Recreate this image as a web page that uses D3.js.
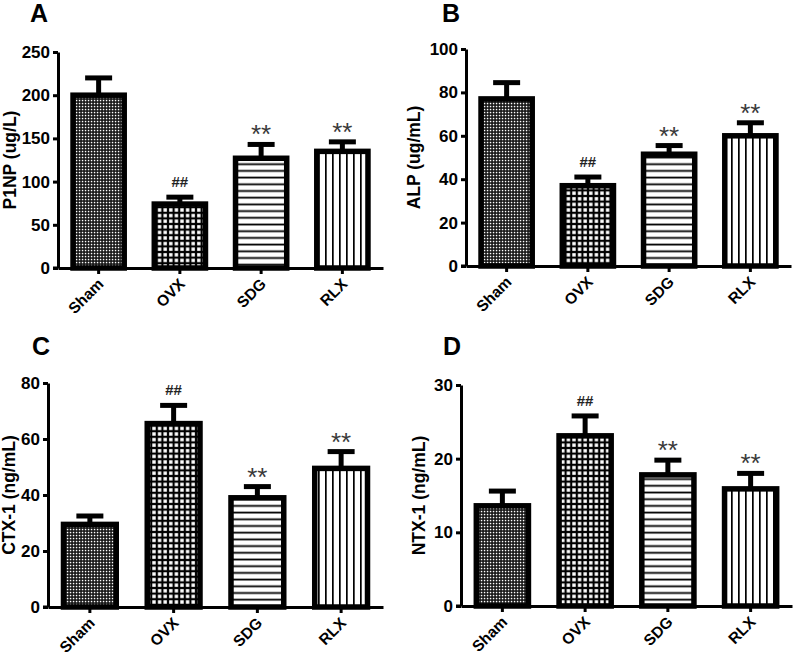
<!DOCTYPE html>
<html><head><meta charset="utf-8">
<script src="https://cdn.jsdelivr.net/npm/d3@7"></script>
<style>body{margin:0;background:#fff} svg{display:block}</style>
</head><body><svg id="c" width="796" height="656"></svg>
<script>
const categories = ["Sham","OVX","SDG","RLX"];
const panelLetters = ["A","B","C","D"];
const yLabels = ["P1NP (ug/L)","ALP (ug/mL)","CTX-1 (ng/mL)","NTX-1 (ng/mL)"];
const p1npMean = [200, 74, 127, 135];
const p1npErr  = [20, 8, 16, 11];
const alpMean  = [77, 37, 51.5, 60];
const alpErr   = [7.5, 4, 4, 6];
const ctxMean  = [29.5, 65.5, 39, 49.5];
const ctxErr   = [3, 6.5, 4, 6];
const ntxMean  = [13.6, 23.1, 17.8, 15.9];
const ntxErr   = [2, 2.7, 2, 2.1];
const p1npMarks = ["", "##", "**", "**"];
const alpMarks  = ["", "##", "**", "**"];
const ctxMarks  = ["", "##", "**", "**"];
const ntxMarks  = ["", "##", "**", "**"];
const p1npTicks = [0,50,100,150,200,250];
const alpTicks  = [0,20,40,60,80,100];
const ctxTicks  = [0,20,40,60,80];
const ntxTicks  = [0,10,20,30];

const means = [p1npMean, alpMean, ctxMean, ntxMean];
const errs = [p1npErr, alpErr, ctxErr, ntxErr];
const marks = [p1npMarks, alpMarks, ctxMarks, ntxMarks];
const ticks = [p1npTicks, alpTicks, ctxTicks, ntxTicks];

const layout = [
  {left:58, right:383, top:52, bottom:268, lx:30, ly:22, labX:10},
  {left:466, right:791, top:49, bottom:266, lx:442, ly:22, labX:414},
  {left:48, right:383, top:383, bottom:607, lx:32, ly:355, labX:9},
  {left:461, right:792, top:385, bottom:606, lx:443, ly:355, labX:419}
];

const FONT = "'Liberation Sans', Arial, Helvetica, sans-serif";
const svg = d3.select("#c");
const defs = svg.append("defs");

// Patterns
const pS = defs.append("pattern").attr("id","pSham").attr("patternUnits","userSpaceOnUse").attr("width",3).attr("height",3);
pS.append("rect").attr("width",3).attr("height",3).attr("fill","#111");
pS.append("rect").attr("x",0.8).attr("y",0.8).attr("width",1.5).attr("height",1.5).attr("fill","#fff");
const pO = defs.append("pattern").attr("id","pOVX").attr("patternUnits","userSpaceOnUse").attr("width",5.6).attr("height",5.6);
pO.append("rect").attr("width",5.6).attr("height",5.6).attr("fill","#000");
pO.append("rect").attr("x",1.1).attr("y",1.1).attr("width",3.4).attr("height",3.4).attr("fill","#fff");
const pD = defs.append("pattern").attr("id","pSDG").attr("patternUnits","userSpaceOnUse").attr("width",10).attr("height",6.7);
pD.append("rect").attr("width",10).attr("height",6.7).attr("fill","#fff");
pD.append("rect").attr("y",2.5).attr("width",10).attr("height",1.8).attr("fill","#000");
const pR = defs.append("pattern").attr("id","pRLX").attr("patternUnits","userSpaceOnUse").attr("width",7).attr("height",10);
pR.append("rect").attr("width",7).attr("height",10).attr("fill","#fff");
pR.append("rect").attr("x",3).attr("width",1.7).attr("height",10).attr("fill","#000");
const fills = ["url(#pSham)","url(#pOVX)","url(#pSDG)","url(#pRLX)"];

layout.forEach((L, pi) => {
  const yTicks = ticks[pi];
  const y = d3.scaleLinear().domain([0, d3.max(yTicks)]).range([L.bottom, L.top]);
  const x = d3.scaleBand().domain(categories).range([L.left, L.right]).paddingInner(0.37).paddingOuter(0.185);
  const g = svg.append("g");
  const data = categories.map((c, i) => ({c, v: means[pi][i], e: errs[pi][i], m: marks[pi][i], f: fills[i]}));
  const cx = d => x(d.c) + x.bandwidth()/2;

  // bars
  g.selectAll("rect.bar").data(data).join("rect").attr("class","bar")
    .attr("x", d => x(d.c)).attr("width", x.bandwidth())
    .attr("y", d => y(d.v)).attr("height", d => y(0) - y(d.v))
    .attr("fill", d => d.f).attr("stroke","#000").attr("stroke-width",5.5);

  // error bars
  g.selectAll("line.stem").data(data).join("line").attr("class","stem")
    .attr("x1", cx).attr("x2", cx).attr("y1", d => y(d.v)).attr("y2", d => y(d.v + d.e))
    .attr("stroke","#000").attr("stroke-width",5);
  g.selectAll("line.cap").data(data).join("line").attr("class","cap")
    .attr("x1", d => cx(d) - 13.5).attr("x2", d => cx(d) + 13.5)
    .attr("y1", d => y(d.v + d.e)).attr("y2", d => y(d.v + d.e))
    .attr("stroke","#000").attr("stroke-width",5);

  // annotations
  g.selectAll("text.mark").data(data.filter(d => d.m)).join("text").attr("class","mark")
    .attr("x", cx)
    .attr("y", d => y(d.v + d.e) - (d.m === "##" ? 10 : 1))
    .attr("text-anchor","middle")
    .attr("font-family", FONT)
    .attr("font-weight", d => d.m === "##" ? "bold" : "normal")
    .attr("font-size", d => d.m === "##" ? 15 : 26)
    .attr("fill", d => d.m === "##" ? "#222" : "#3a3a3a")
    .text(d => d.m);

  // y axis
  const ya = g.append("g").attr("transform", `translate(${L.left},0)`)
    .call(d3.axisLeft(y).tickValues(yTicks).tickFormat(d3.format("d")).tickSize(5).tickSizeOuter(0).tickPadding(3));
  ya.select(".domain").attr("stroke","#000").attr("stroke-width",3);
  ya.selectAll(".tick line").attr("stroke","#000").attr("stroke-width",3);
  ya.selectAll(".tick text").attr("font-family",FONT).attr("font-weight","bold").attr("font-size",17).attr("fill","#000");

  // x axis
  const xa = g.append("g").attr("transform", `translate(0,${L.bottom})`)
    .call(d3.axisBottom(x).tickSize(6).tickSizeOuter(0).tickFormat(""));
  xa.select(".domain").attr("stroke","#000").attr("stroke-width",3);
  xa.selectAll(".tick line").attr("stroke","#000").attr("stroke-width",3);
  g.append("line").attr("x1", L.left - 5).attr("x2", L.left).attr("y1", L.bottom).attr("y2", L.bottom)
    .attr("stroke","#000").attr("stroke-width",3);

  // rotated category labels
  g.selectAll("text.xlab").data(categories).join("text").attr("class","xlab")
    .attr("transform", c => `translate(${x(c) + x.bandwidth()/2 + 6},${L.bottom + 17}) rotate(-45)`)
    .attr("text-anchor","end")
    .attr("font-family",FONT).attr("font-weight","bold").attr("font-size",15.5).attr("fill","#000")
    .text(c => c);

  // y label
  g.append("text")
    .attr("transform", `translate(${L.labX},${(L.top + L.bottom)/2}) rotate(-90)`)
    .attr("text-anchor","middle").attr("dy","0.35em")
    .attr("font-family",FONT).attr("font-weight","bold").attr("font-size",17.5)
    .text(yLabels[pi]);

  // panel letter
  g.append("text").attr("x", L.lx).attr("y", L.ly)
    .attr("font-family",FONT).attr("font-weight","bold").attr("font-size",25)
    .text(panelLetters[pi]);
});
</script>
</body></html>
